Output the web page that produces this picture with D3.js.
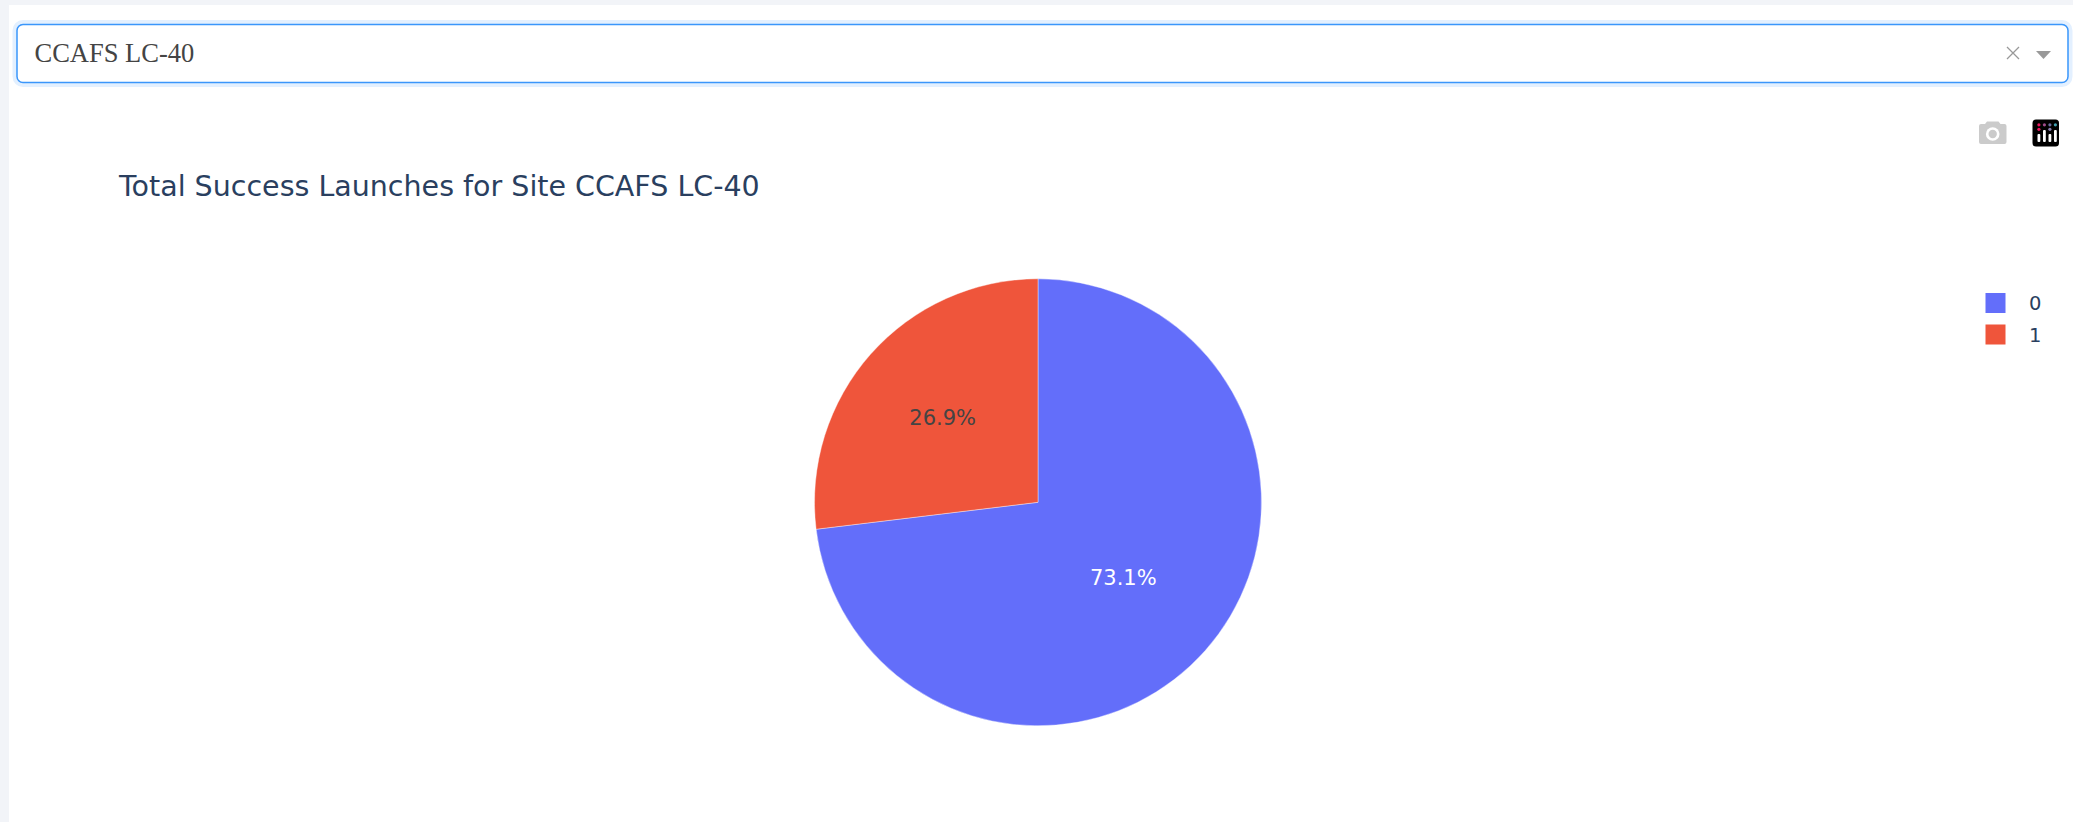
<!DOCTYPE html>
<html>
<head>
<meta charset="utf-8">
<script src="https://cdn.jsdelivr.net/npm/d3@7"></script>
<style>
  html, body { margin: 0; padding: 0; background: #f2f4f8; overflow: hidden; }
  svg { display: block; }
  text { font-family: "DejaVu Sans", sans-serif; }
</style>
</head>
<body>
<script>
'use strict'

var siteName = 'CCAFS LC-40'
var titleText = 'Total Success Launches for Site CCAFS LC-40'
var classes = ['0', '1']
var launchCounts = [19, 7]
var sliceColors = ['#636efa', '#ef553b']
var labelColors = ['#ffffff', '#444444']
var labelRadii = [0.51, 0.57]

var W = 2073, H = 822
  , cx = 1038, cy = 502.300, r = 223.500
  , svg = d3.select('body').append('svg').attr('width', W).attr('height', H)

// page panel
svg.append('rect').attr('x', 9).attr('y', 5).attr('width', W - 9).attr('height', H - 5).attr('fill', '#fff')

// dropdown
svg.append('rect').attr('x', 17).attr('y', 24.500).attr('width', 2051).attr('height', 58).attr('rx', 6)
  .attr('fill', '#fff').attr('stroke', '#e3f0ff').attr('stroke-width', 9)
svg.append('rect').attr('x', 17).attr('y', 24.500).attr('width', 2051).attr('height', 58).attr('rx', 6)
  .attr('fill', '#fff').attr('stroke', '#3a96fb').attr('stroke-width', 1.500)
svg.append('text').text(siteName).attr('x', 34.500).attr('y', 62)
  .style('font-family', '"Liberation Serif", serif').style('font-size', '26.500px').attr('fill', '#444')
svg.append('path').attr('d', 'M2007 47L2019 59M2019 47L2007 59').attr('stroke', '#999').attr('stroke-width', 1.300).attr('fill', 'none')
svg.append('path').attr('d', 'M2036 51L2051 51L2043.500 59Z').attr('fill', '#999')

// modebar camera
var cam = svg.append('g').attr('fill', '#cbcbcb')
cam.append('path').attr('d', 'M1981 124h4l2-2.500h11.500l2 2.500h4a2 2 0 0 1 2 2v16a2 2 0 0 1-2 2h-23.500a2 2 0 0 1-2-2v-16a2 2 0 0 1 2-2z')
cam.append('circle').attr('cx', 1992.700).attr('cy', 134).attr('r', 6.800).attr('fill', '#fff')
cam.append('circle').attr('cx', 1992.700).attr('cy', 134).attr('r', 4.200)

// modebar logo
var logo = svg.append('g')
logo.append('rect').attr('x', 2032.500).attr('y', 119.500).attr('width', 26.500).attr('height', 27).attr('rx', 3.500).attr('fill', '#000')
var barTops = [134, 130, 134, 130]
barTops.forEach(function(t, i){
  logo.append('rect').attr('x', 2037.500 + i * 5.500).attr('y', t).attr('width', 2.800).attr('height', 142 - t).attr('rx', 1).attr('fill', '#fff')
})
var dots = [[0, 0, '#e8175d'], [1, 0, '#a14d8b'], [2, 0, '#6b6b9d'], [3, 0, '#3fa0b0'], [0, 1, '#e8175d'], [2, 1, '#8a7fb0']]
dots.forEach(function(d){
  logo.append('circle').attr('cx', 2038.900 + d[0] * 5.500).attr('cy', 124.800 + d[1] * 4.500).attr('r', 1.600).attr('fill', d[2])
})

// title
svg.append('text').text(titleText).attr('x', 119).attr('y', 196)
  .style('font-size', '28.500px').attr('fill', '#2a3f5f')

// pie
var color = d3.scaleOrdinal().domain(classes).range(sliceColors)
var pie = d3.pie().value(function(d){ return d.value }).sort(null)
var arc = d3.arc().innerRadius(0).outerRadius(r)
var slices = pie(classes.map(function(c, i){ return { name: c, value: launchCounts[i], i: i } }))
var g = svg.append('g').attr('transform', 'translate(' + cx + ',' + cy + ')')

g.selectAll('path').data(slices).enter().append('path')
  .attr('d', arc)
  .attr('fill', function(d){ return color(d.data.name) })
  .attr('stroke', '#fff').attr('stroke-width', 0.400)

var total = d3.sum(launchCounts), fmt = d3.format('.1%')
g.selectAll('text').data(slices).enter().append('text')
  .text(function(d){ return fmt(d.data.value / total) })
  .attr('transform', function(d){
    var k = labelRadii[d.data.i] * r
    return 'translate(' + d3.arc().innerRadius(k).outerRadius(k).centroid(d) + ')'
  })
  .attr('text-anchor', 'middle').attr('dy', '0.36em')
  .style('font-size', '21px')
  .attr('fill', function(d){ return labelColors[d.data.i] })

// legend
var legendY = d3.scalePoint().domain(classes).range([303, 334.500])
var legend = svg.selectAll('g.legend').data(classes).enter().append('g').attr('class', 'legend')
  .attr('transform', function(d){ return 'translate(0,' + legendY(d) + ')' })
legend.append('rect').attr('x', 1985.500).attr('y', -10).attr('width', 20).attr('height', 20)
  .attr('fill', function(d){ return color(d) })
legend.append('text').text(function(d){ return d }).attr('x', 2029).attr('dy', '0.36em')
  .style('font-size', '19.500px').attr('fill', '#2a3f5f')
</script>
</body>
</html>
